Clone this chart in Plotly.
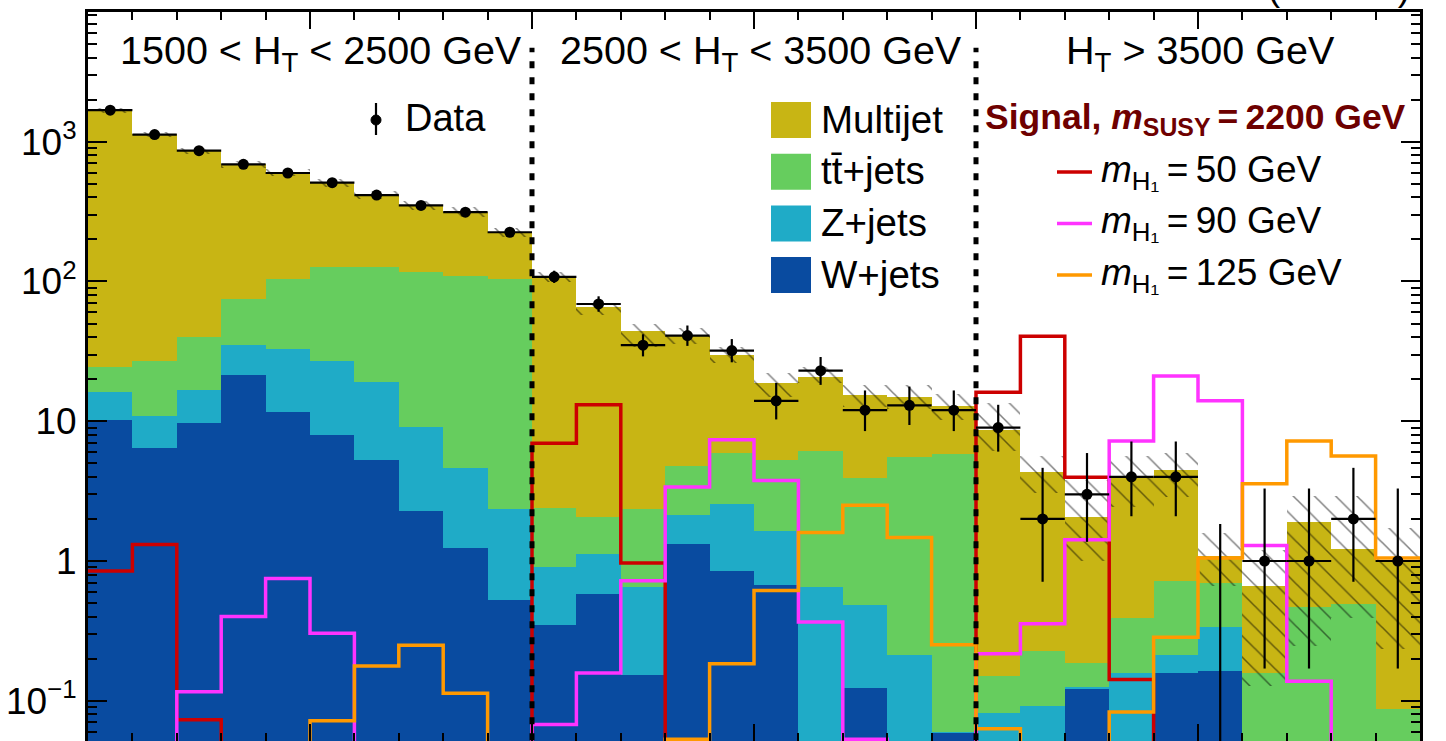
import plotly.graph_objects as go
import numpy as np

# ---------------- data (30 bins: 3 H_T regions x 10 bins) ----------------
n_bins = 30
region_labels = ["1500 &lt; H<sub>T</sub> &lt; 2500 GeV",
                 "2500 &lt; H<sub>T</sub> &lt; 3500 GeV",
                 "H<sub>T</sub> &gt; 3500 GeV"]

w_jets = [10.2, 6.46, 9.65, 21.5, 11.6, 8.0, 5.28, 2.28, 1.24, 0.526,
          0.35, 0.584, 0.154, 1.33, 0.843, 0.677, 0.03, 0.124, 0.03, 0.059,
          0.02, 0.02, 0.122, 0.02, 0.158, 0.163, 0.01, 0.01, 0.01, 0.01]
z_jets = [6.1, 4.44, 7.15, 13.8, 21.3, 19.1, 13.9, 6.86, 3.41, 1.81,
          0.55, 0.536, 0.493, 0.81, 1.727, 0.953, 0.617, 0.363, 0.181, 0.001,
          0.062, 0.071, 0.003, 0.137, 0.056, 0.173, 0.01, 0.01, 0.01, 0.01]
tt_jets = [8.1, 15.9, 23.2, 39.5, 71.6, 99.4, 107.3, 108.7, 105.0, 101.6,
           1.49, 0.94, 1.70, 2.68, 3.37, 3.67, 5.49, 3.43, 5.38, 5.79,
           0.068, 0.135, 0.062, 0.233, 0.501, 0.361, 0.137, 0.449, 0.475, 0.068]
multijet = [1659, 1101, 823, 614, 497, 383, 290, 233, 206, 121,
            105.6, 63.2, 41.9, 36.0, 24.0, 13.4, 14.6, 11.5, 9.4, 7.0,
            8.53, 4.14, 1.89, 3.61, 3.79, 0.38, 0.51, 1.42, 0.73, 0.93]

unc_up_rel = [0.04, 0.04, 0.05, 0.06, 0.06, 0.07, 0.07, 0.08, 0.08, 0.08,
              0.09, 0.07, 0.13, 0.13, 0.14, 0.18, 0.18, 0.18, 0.21, 0.21,
              0.55, 0.30, 0.83, 0.40, 0.31, 0.48, 0.80, 0.55, 1.38, 0.69]
unc_dn_rel = [0.04, 0.04, 0.05, 0.06, 0.06, 0.07, 0.07, 0.08, 0.08, 0.08,
              0.08, 0.12, 0.23, 0.12, 0.13, 0.20, 0.10, 0.18, 0.19, 0.20,
              0.29, 0.30, 0.52, 0.39, 0.36, 0.39, 0.81, 0.87, 0.68, 0.77]

data = [1680, 1125, 863, 689, 597, 509, 415, 350, 313, 225,
        108, 69, 35, 41, 32, 14, 23, 12, 13, 12,
        9, 2, 3, 4, 4, 0, 1, 1, 2, 1]
data_err_dn = [41, 34, 29, 26, 24, 23, 20, 19, 18, 15,
               10.4, 8.3, 5.9, 6.4, 5.6, 3.7, 4.8, 3.5, 3.6, 3.5,
               2.94, 1.29, 1.63, 1.91, 1.91, 0.0, 0.83, 0.83, 1.29, 0.83]
data_err_up = [42, 35, 30, 27, 25, 24, 21, 20, 19, 16,
               11.4, 9.3, 6.9, 7.4, 6.7, 4.8, 5.8, 4.6, 4.7, 4.6,
               4.11, 2.64, 2.92, 3.16, 3.16, 1.84, 2.30, 2.30, 2.64, 2.30]

sig_m50 = [0.848, 1.31, 0.073, 0.01, 0.01, 0.01, 0.01, 0.01, 0.01, 0.01,
           6.97, 13.1, 0.968, 0.01, 0.01, 0.01, 0.01, 0.01, 0.01, 0.01,
           16.1, 40.6, 3.98, 0.142, 0.01, 0.01, 0.01, 0.01, 0.01, 0.01]
sig_m90 = [0.01, 0.01, 0.116, 0.40, 0.75, 0.304, 0.01, 0.01, 0.01, 0.01,
           0.0676, 0.158, 0.723, 3.38, 7.36, 3.77, 0.366, 0.053, 0.01, 0.01,
           0.217, 0.356, 1.42, 7.23, 21.1, 14.0, 1.29, 0.138, 0.01, 0.01]
sig_m125 = [0.01, 0.01, 0.01, 0.01, 0.01, 0.0718, 0.177, 0.249, 0.113, 0.01,
            0.01, 0.01, 0.01, 0.053, 0.184, 0.614, 1.6, 2.5, 1.47, 0.252,
            0.063, 0.01, 0.01, 0.083, 0.285, 1.05, 3.57, 7.23, 5.65, 1.05]

bkg_names = ["Multijet", "tt\u0304+jets", "Z+jets", "W+jets"]
sig_names = ["50 GeV", "90 GeV", "125 GeV"]

# ---------------- style ----------------
FONT = "Liberation Sans"
C_MJ, C_TT, C_Z, C_W = "#c8b514", "#66cd5e", "#1fabc7", "#094ba0"
C_S50, C_S90, C_S125 = "#cc0000", "#ff33ff", "#ff9900"
C_SIGTITLE = "#6e0000"
W, H = 1446, 741
L, R, T, B = 88, 1420, 12, 741
YRANGE = [-1.288, 3.928]
DIVIDER_TOP = 4700


def px(x):
    return (x - L) / (R - L)


def py(y):
    return (B - y) / (B - T)


edges = np.arange(n_bins + 1)
centers = edges[:-1] + 0.5

w = np.array(w_jets)
z = np.array(z_jets)
tt = np.array(tt_jets)
mj = np.array(multijet)
cum_w = w
cum_z = cum_w + z
cum_tt = cum_z + tt
total = cum_tt + mj

fig = go.Figure()

# stacked backgrounds as overlaid cumulative bars
for vals, col in [(total, C_MJ), (cum_tt, C_TT), (cum_z, C_Z), (cum_w, C_W)]:
    fig.add_trace(go.Bar(x=centers, y=vals, width=1.0,
                         marker=dict(color=col, line=dict(width=0)),
                         showlegend=False, hoverinfo="skip"))

# hatched uncertainty band
lo = total * (1 - np.array(unc_dn_rel))
hi = total * (1 + np.array(unc_up_rel))
fig.add_trace(go.Bar(x=centers, y=hi - lo, base=lo, width=1.0,
                     marker=dict(color="rgba(0,0,0,0)", line=dict(width=0),
                                 pattern=dict(shape="\\", fgcolor="black",
                                              bgcolor="rgba(0,0,0,0)",
                                              size=15, solidity=0.1,
                                              fillmode="overlay")),
                     showlegend=False, hoverinfo="skip"))

# signal step histograms
for vals, col in [(sig_m50, C_S50), (sig_m90, C_S90), (sig_m125, C_S125)]:
    fig.add_trace(go.Scatter(x=edges, y=list(vals) + [vals[-1]], mode="lines",
                             line=dict(color=col, width=3.5, shape="hv"),
                             showlegend=False, hoverinfo="skip"))

# data error bars
ex, ey = [], []
for i in range(n_bins):
    d = data[i]
    if d > 0:
        ex += [edges[i], edges[i + 1], None]
        ey += [d, d, None]
    ex += [centers[i], centers[i], None]
    ey += [max(d - data_err_dn[i], 1e-3), d + data_err_up[i], None]
fig.add_trace(go.Scatter(x=ex, y=ey, mode="lines",
                         line=dict(color="black", width=2.2),
                         showlegend=False, hoverinfo="skip"))
dx = [c for c, d in zip(centers, data) if d > 0]
dy = [d for d in data if d > 0]
fig.add_trace(go.Scatter(x=dx, y=dy, mode="markers",
                         marker=dict(color="black", size=11),
                         showlegend=False, hoverinfo="skip"))

# region dividers
for xb in [10, 20]:
    fig.add_trace(go.Scatter(x=[xb, xb], y=[1e-3, DIVIDER_TOP], mode="lines",
                             line=dict(color="black", width=5, dash="7px,9px"),
                             showlegend=False, hoverinfo="skip"))

# ---------------- annotations / legends ----------------
ann = []
shapes = []


def text(x, y, s, size=38, anchor="left", color="black"):
    ann.append(dict(x=px(x), y=py(y), xref="paper", yref="paper", text=s,
                    showarrow=False, xanchor=anchor, yanchor="middle",
                    font=dict(family=FONT, size=size, color=color)))


for cx, lab in zip([321, 761, 1200], region_labels):
    text(cx, 53, lab, size=39.5, anchor="center")

# data legend
shapes.append(dict(type="line", xref="paper", yref="paper",
                   x0=px(376), x1=px(376), y0=py(103), y1=py(135),
                   line=dict(color="black", width=2.2)))
shapes.append(dict(type="circle", xref="paper", yref="paper",
                   x0=px(371), x1=px(381), y0=py(115), y1=py(125),
                   fillcolor="black", line=dict(color="black", width=1)))
text(403, 118, "Data")

# background legend
for k, (name, col) in enumerate(zip(bkg_names, [C_MJ, C_TT, C_Z, C_W])):
    yc = 120 + 51.7 * k
    shapes.append(dict(type="rect", xref="paper", yref="paper",
                       x0=px(771), x1=px(811), y0=py(yc - 18), y1=py(yc + 18),
                       fillcolor=col, line=dict(width=0)))
    text(819, yc - 1, name, size=38.5)

# signal legend
text(1195, 119, "<b>Signal, <i>m</i><sub>SUSY</sub>\u2009=\u20092200 GeV</b>",
     size=35.5, anchor="center", color=C_SIGTITLE)
for k, (name, col) in enumerate(zip(sig_names, [C_S50, C_S90, C_S125])):
    yc = 172 + 51.5 * k
    shapes.append(dict(type="line", xref="paper", yref="paper",
                       x0=px(1057), x1=px(1092), y0=py(yc), y1=py(yc),
                       line=dict(color=col, width=3.5)))
    text(1099, yc, "<i>m</i><sub>H\u2081</sub>\u2009=\u2009" + name, size=37)

# lumi label (mostly above the visible canvas)
ann.append(dict(x=px(1412), y=py(-16), xref="paper", yref="paper",
                text="138 fb<sup>\u22121</sup> (13 TeV)", showarrow=False,
                xanchor="right", yanchor="middle",
                font=dict(family=FONT, size=38, color="black")))

# ---------------- axes ----------------
minor_y = [d * 10.0 ** k for k in range(-2, 4) for d in range(2, 10)]

fig.update_layout(
    width=W, height=H,
    margin=dict(l=L, r=W - R, t=T, b=H - B, pad=0),
    paper_bgcolor="white", plot_bgcolor="white",
    barmode="overlay", bargap=0,
    showlegend=False,
    annotations=ann, shapes=shapes,
    xaxis=dict(range=[0, n_bins], showgrid=False, zeroline=False,
               showline=True, linewidth=3, linecolor="black", mirror="ticks",
               ticks="inside", ticklen=17, tickwidth=2, tickcolor="black",
               tickmode="array", tickvals=list(range(0, n_bins + 1, 5)),
               showticklabels=False,
               minor=dict(ticks="inside", ticklen=8, tickwidth=2,
                          tickcolor="black", tickmode="array",
                          tickvals=list(range(0, n_bins + 1)), showgrid=False)),
    yaxis=dict(type="log", range=YRANGE, showgrid=False, zeroline=False,
               showline=True, linewidth=3, linecolor="black", mirror="ticks",
               ticks="inside", ticklen=19, tickwidth=2, tickcolor="black",
               tickmode="array", tickvals=[0.1, 1, 10, 100, 1000],
               ticktext=["10<sup>\u22121</sup>", "1", "10", "10<sup>2</sup>",
                         "10<sup>3</sup>"],
               tickfont=dict(family=FONT, size=37, color="black"),
               ticklabelstandoff=1,
               minor=dict(ticks="inside", ticklen=9, tickwidth=2,
                          tickcolor="black", tickmode="array",
                          tickvals=minor_y, showgrid=False)),
)

fig.write_html("out.html",
               config={"displayModeBar": False},
               post_script="document.body.style.margin='0';"
                           "document.body.style.overflow='hidden';")
